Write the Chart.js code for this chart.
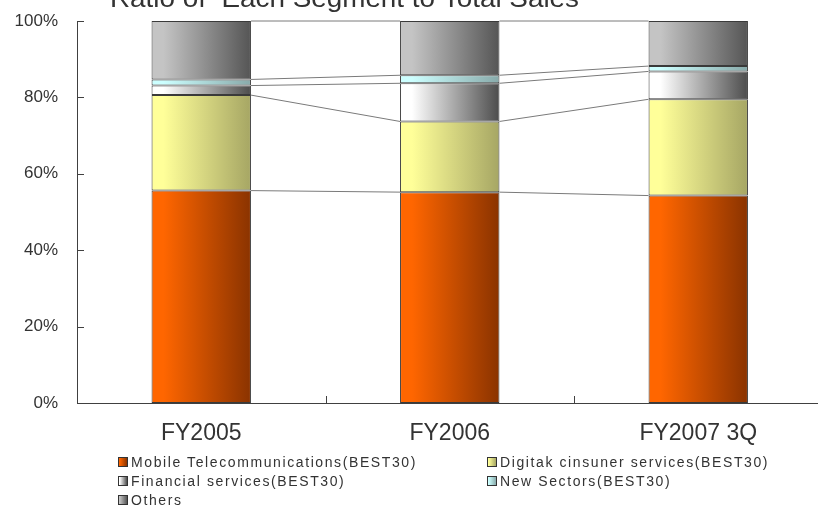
<!DOCTYPE html>
<html>
<head>
<meta charset="utf-8">
<script src="https://cdn.jsdelivr.net/npm/chart.js@4"></script>
<style>
  html, body { margin: 0; padding: 0; background: #fff; overflow: hidden; }
  #wrap { position: relative; width: 818px; height: 508px; overflow: hidden; background: #fff; }
  #c { position: absolute; left: 0; top: 0; }
  .lg { position: absolute; font: 14px "Liberation Sans", Arial, sans-serif; letter-spacing: 1.6px; color: #333; line-height: 18px; white-space: nowrap; }
  .lg i { position: absolute; left: -13px; top: 4px; width: 8px; height: 8px; border: 1px solid #333; }
</style>
</head>
<body>
<div id="wrap">
  <canvas id="c" width="830" height="508" style="width:830px;height:508px"></canvas>
</div>
<script>
// Fiscal periods on the category axis
const categories = ['FY2005', 'FY2006', 'FY2007 3Q'];

// Share of total sales per segment (%), one value per period
const mobileTelecom   = [55.6, 55.2, 54.3];
const digitalConsumer = [25.0, 18.5, 25.2];
const financial       = [2.5, 10.0, 7.3];
const newSectors      = [1.6, 2.1, 1.4];
const others          = [15.3, 14.2, 11.8];

const seriesNames = [
  'Mobile Telecommunications(BEST30)',
  'Digitak cinsuner services(BEST30)',
  'Financial services(BEST30)',
  'New Sectors(BEST30)',
  'Others'
];

const yTicks = [0, 20, 40, 60, 80, 100];
const titleText = 'Ratio of  Each Segment to Total Sales';

// light → dark shading for each segment
const shades = [
  ['#ff6600', '#8a3300'],
  ['#ffff99', '#a6a664'],
  ['#ffffff', '#4c4c4c'],
  ['#ccffff', '#88aaaa'],
  ['#c4c4c4', '#555555']
];

const BAR_PCT = 0.4;

function barFill(light, dark) {
  return (ctx) => {
    const chart = ctx.chart;
    if (!chart.chartArea || ctx.type !== 'data') return dark;
    const xs = chart.scales.x;
    const cx = xs.getPixelForValue(ctx.dataIndex);
    const half = xs.width / categories.length * BAR_PCT / 2;
    const g = chart.ctx.createLinearGradient(cx - half, 0, cx + half, 0);
    g.addColorStop(0, light);
    g.addColorStop(0.12, light);
    g.addColorStop(1, dark);
    return g;
  };
}

const values = [mobileTelecom, digitalConsumer, financial, newSectors, others];

const datasets = values.map((v, i) => ({
  label: seriesNames[i],
  data: v,
  backgroundColor: barFill(shades[i][0], shades[i][1]),
  borderColor: '#3a3a3a',
  borderWidth: 1,
  borderSkipped: false,
  barPercentage: BAR_PCT,
  categoryPercentage: 1.0
}));

// grey connector lines between the tops of matching segments
const seriesLines = {
  id: 'seriesLines',
  afterDatasetsDraw(chart) {
    const c = chart.ctx;
    c.save();
    c.strokeStyle = '#7a7a7a';
    c.lineWidth = 1;
    chart.data.datasets.forEach((ds, d) => {
      const meta = chart.getDatasetMeta(d);
      for (let j = 0; j < meta.data.length - 1; j++) {
        const a = meta.data[j], b = meta.data[j + 1];
        c.beginPath();
        c.moveTo(a.x + a.width / 2, a.y);
        c.lineTo(b.x - b.width / 2, b.y);
        c.stroke();
      }
    });
    c.restore();
  }
};

// tick marks pointing into the plot area
const innerTicks = {
  id: 'innerTicks',
  afterDraw(chart) {
    const c = chart.ctx;
    const xs = chart.scales.x, ys = chart.scales.y;
    const area = chart.chartArea;
    c.save();
    c.strokeStyle = '#404040';
    c.lineWidth = 1;
    yTicks.forEach(t => {
      const y = Math.round(ys.getPixelForValue(t)) + 0.5;
      c.beginPath();
      c.moveTo(area.left, y);
      c.lineTo(area.left + 7, y);
      c.stroke();
    });
    const step = xs.width / categories.length;
    for (let k = 1; k < categories.length; k++) {
      const x = Math.round(xs.getPixelForValue(k) - step / 2) + 0.5;
      c.beginPath();
      c.moveTo(x, area.bottom);
      c.lineTo(x, area.bottom - 7);
      c.stroke();
    }
    c.restore();
  }
};

// chart title, partly above the top edge of the canvas
const topTitle = {
  id: 'topTitle',
  afterDraw(chart) {
    const c = chart.ctx;
    c.save();
    c.font = '25px "Liberation Sans", Arial, sans-serif';
    c.fillStyle = '#333';
    c.textBaseline = 'alphabetic';
    const w = c.measureText(titleText).width;
    const target = 469;
    c.translate(110, 7);
    c.scale(target / w, 1);
    c.fillText(titleText, 0, 0);
    c.restore();
  }
};

new Chart(document.getElementById('c'), {
  type: 'bar',
  data: { labels: categories, datasets },
  options: {
    responsive: false,
    devicePixelRatio: 1,
    animation: false,
    layout: { padding: { left: 0, top: 21, right: 7.5, bottom: 60 } },
    plugins: { legend: { display: false }, tooltip: { enabled: false }, title: { display: false } },
    scales: {
      x: {
        stacked: true,
        grid: { display: false, drawTicks: false },
        border: { display: true, color: '#404040', width: 1 },
        ticks: { color: '#333', font: { family: 'Liberation Sans', size: 23 }, padding: 17, maxRotation: 0 },
        afterFit: s => { s.height = 45; s.paddingLeft = 0; s.paddingRight = 0; }
      },
      y: {
        stacked: true,
        min: 0,
        max: 100,
        grid: { display: false, drawTicks: false },
        border: { display: true, color: '#404040', width: 1 },
        ticks: { stepSize: 20, color: '#333', font: { family: 'Liberation Sans', size: 17 }, padding: 19,
                 callback: v => v + '%' },
        afterFit: s => { s.width = 77; s.paddingTop = 0; s.paddingBottom = 0; }
      }
    }
  },
  plugins: [seriesLines, innerTicks, topTitle]
});

// legend in two columns under the plot
const wrap = document.getElementById('wrap');
const legendPos = [[131, 453], [500, 453], [131, 472], [500, 472], [131, 491]];
seriesNames.forEach((name, i) => {
  const d = document.createElement('div');
  d.className = 'lg';
  d.style.left = legendPos[i][0] + 'px';
  d.style.top = legendPos[i][1] + 'px';
  const sw = document.createElement('i');
  sw.style.background = `linear-gradient(to right, ${shades[i][0]} 10%, ${shades[i][1]})`;
  d.appendChild(sw);
  d.appendChild(document.createTextNode(name));
  wrap.appendChild(d);
});
</script>
</body>
</html>
